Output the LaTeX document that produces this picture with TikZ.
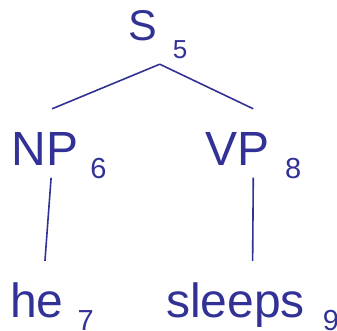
\documentclass[tikz,border=0pt]{standalone}
\usepackage{fontspec}
\setmainfont{Liberation Sans}
\usepackage{tikz}
\usetikzlibrary{positioning}

\definecolor{treeblue}{RGB}{50,50,150}
\newcommand{\idx}[2][12bp]{\hspace{#1}\raisebox{-13bp}{\fontsize{29bp}{32bp}\selectfont #2}}

\tikzset{
  cat/.style={anchor=base west, inner sep=0, text=treeblue,
    font=\fontsize{48bp}{52bp}\selectfont, text height=56bp, text depth=12.5bp},
  edge/.style={draw=treeblue, line width=1.6bp}
}

\begin{document}
\begin{tikzpicture}[x=1bp,y=-1bp]
\useasboundingbox (0,0) rectangle (337,331);

\node[cat, font=\fontsize{43bp}{46bp}\selectfont, text depth=24bp] (s) at (128,40)
  {S\hspace{16bp}\raisebox{-18bp}{\fontsize{26bp}{28bp}\selectfont 5}};
\node[cat] (np) at (11.5,165) {NP\idx{6}};
\node[cat] (vp) at (205,165) {VP\idx[16bp]{8}};
\node[cat] (he) at (10,317) {he\idx[14bp]{7}};
\node[cat] (sleeps) at (166,317) {sleeps\idx[18bp]{9}};

\draw[edge] ([xshift=2bp]s.south) -- ([xshift=-7bp]np.north);
\draw[edge] ([xshift=2bp]s.south) -- (vp.north);
\draw[edge] ([xshift=-8bp]np.south) -- ([xshift=-7bp]he.north);
\draw[edge] (vp.south) -- (sleeps.north);
\end{tikzpicture}
\end{document}
